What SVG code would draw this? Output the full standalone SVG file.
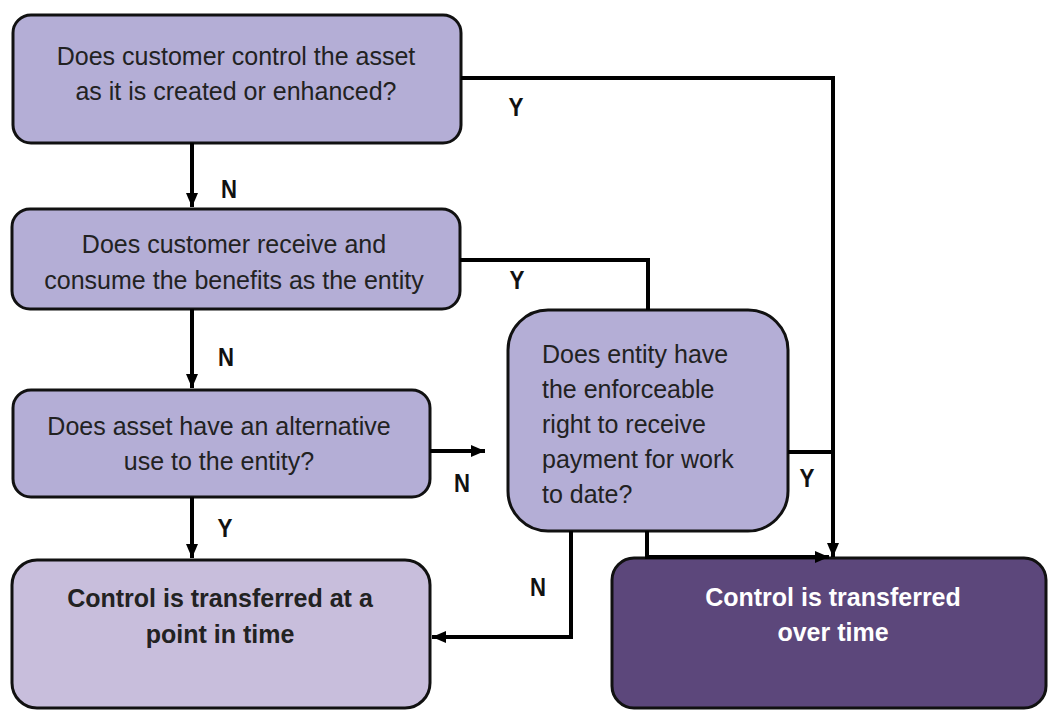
<svg xmlns="http://www.w3.org/2000/svg" width="1049" height="711" viewBox="0 0 1049 711">
  <style>
    .q { fill: #b4aed6; stroke: #111; stroke-width: 3; }
    .pit { fill: #c8bedc; stroke: #111; stroke-width: 3; }
    .ot { fill: #5c477b; stroke: #111; stroke-width: 3; }
    .t { font-family: "Liberation Sans", Arial, sans-serif; font-size: 25px; fill: #222; }
    .c { text-anchor: middle; }
    .b { font-weight: bold; }
    .w { fill: #ffffff; }
    .lbl { font-family: "Liberation Sans", Arial, sans-serif; font-size: 25px; font-weight: bold; fill: #111; text-anchor: middle; }
    .conn { fill: none; stroke: #000; stroke-width: 4; }
  </style>
  <defs>
    <marker id="ah" markerUnits="userSpaceOnUse" markerWidth="14" markerHeight="12" refX="14" refY="6" orient="auto">
      <path d="M0,0 L14,6 L0,12 z" fill="#000"/>
    </marker>
  </defs>
  <rect width="1049" height="711" fill="#ffffff"/>

  <g id="q1">
    <rect class="q" x="13" y="15" width="448" height="128" rx="18"/>
    <text class="t c" x="236" y="65">Does customer control the asset</text>
    <text class="t c" x="236" y="100">as it is created or enhanced?</text>
  </g>
  <g id="q2">
    <rect class="q" x="12" y="209" width="448" height="100" rx="18"/>
    <text class="t c" x="234" y="253">Does customer receive and</text>
    <text class="t c" x="234" y="289">consume the benefits as the entity</text>
  </g>
  <g id="q3">
    <rect class="q" x="13" y="390" width="417" height="107" rx="18"/>
    <text class="t c" x="219" y="435">Does asset have an alternative</text>
    <text class="t c" x="219" y="470">use to the entity?</text>
  </g>
  <g id="q4">
    <rect class="q" x="508" y="310" width="280" height="221" rx="40"/>
    <text class="t" x="542" y="363">Does entity have</text>
    <text class="t" x="542" y="398">the enforceable</text>
    <text class="t" x="542" y="433">right to receive</text>
    <text class="t" x="542" y="468">payment for work</text>
    <text class="t" x="542" y="503">to date?</text>
  </g>
  <g id="point-in-time">
    <rect class="pit" x="12" y="560" width="418" height="148" rx="25"/>
    <text class="t c b" x="220" y="607">Control is transferred at a</text>
    <text class="t c b" x="220" y="643">point in time</text>
  </g>
  <g id="over-time">
    <rect class="ot" x="612" y="558" width="434" height="150" rx="22"/>
    <text class="t c b w" x="833" y="606">Control is transferred</text>
    <text class="t c b w" x="833" y="641">over time</text>
  </g>

  <g id="connectors">
    <path class="conn" d="M192,143 V207" marker-end="url(#ah)"/>
    <path class="conn" d="M192,309 V388" marker-end="url(#ah)"/>
    <path class="conn" d="M192,497 V558" marker-end="url(#ah)"/>
    <path class="conn" d="M430,451 H485" marker-end="url(#ah)"/>
    <path class="conn" d="M461,78 H833 V557" marker-end="url(#ah)"/>
    <path class="conn" d="M460,260 H648 V310"/>
    <path class="conn" d="M788,452 H833"/>
    <path class="conn" d="M571,531 V637 H432" marker-end="url(#ah)"/>
    <path class="conn" d="M647,531 V557 H829" marker-end="url(#ah)"/>
  </g>

  <g id="labels">
    <text class="lbl" x="516" y="116" textLength="15" lengthAdjust="spacingAndGlyphs">Y</text>
    <text class="lbl" x="229" y="198" textLength="16" lengthAdjust="spacingAndGlyphs">N</text>
    <text class="lbl" x="517" y="289" textLength="15" lengthAdjust="spacingAndGlyphs">Y</text>
    <text class="lbl" x="226" y="366" textLength="16" lengthAdjust="spacingAndGlyphs">N</text>
    <text class="lbl" x="462" y="492" textLength="16" lengthAdjust="spacingAndGlyphs">N</text>
    <text class="lbl" x="225" y="537" textLength="15" lengthAdjust="spacingAndGlyphs">Y</text>
    <text class="lbl" x="538" y="596" textLength="16" lengthAdjust="spacingAndGlyphs">N</text>
    <text class="lbl" x="807" y="487" textLength="15" lengthAdjust="spacingAndGlyphs">Y</text>
  </g>
</svg>
